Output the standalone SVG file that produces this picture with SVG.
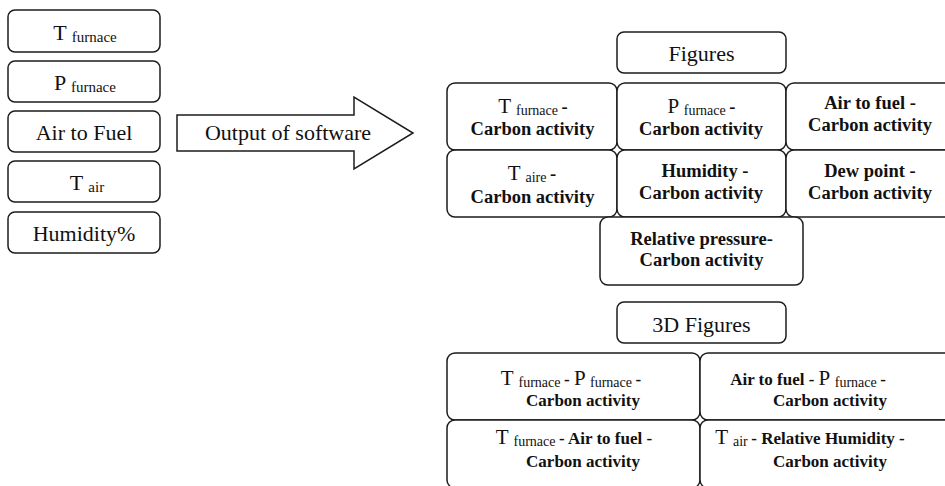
<svg xmlns="http://www.w3.org/2000/svg" width="945" height="486" viewBox="0 0 945 486" font-family="Liberation Serif, serif">
<style>
.box{fill:#fff;stroke:#1c1c1c;stroke-width:1.5}
.t{font-family:'Liberation Serif',serif;fill:#111;text-anchor:middle}
.big{font-size:22px}
.sub{font-size:15px}
.sub2{font-size:14px}
.b1{font-size:18.5px;font-weight:bold}
.b2{font-size:17px;font-weight:bold}
.r1{font-size:21px}
</style>
<rect width="945" height="486" fill="#fff"/>

<g id="in-tfurnace"><rect class="box" x="8" y="10" width="152" height="42" rx="7"/>
<text class="t" x="85" y="40"><tspan class="big">T </tspan><tspan class="sub" dy="2">furnace</tspan></text></g>
<g id="in-pfurnace"><rect class="box" x="8" y="61" width="152" height="41" rx="7"/>
<text class="t" x="85" y="90"><tspan class="big">P </tspan><tspan class="sub" dy="2">furnace</tspan></text></g>
<g id="in-airfuel"><rect class="box" x="8" y="111" width="152" height="41" rx="7"/>
<text class="t big" x="84" y="140">Air to Fuel</text></g>
<g id="in-tair"><rect class="box" x="8" y="161" width="152" height="41" rx="7"/>
<text class="t" x="87" y="190"><tspan class="big">T </tspan><tspan class="sub" dy="2">air</tspan></text></g>
<g id="in-humidity"><rect class="box" x="8" y="212" width="152" height="41" rx="7"/>
<text class="t big" x="84" y="241">Humidity%</text></g>

<g id="connectors">
<polygon class="box" points="177,115 354,115 354,97 413,133 354,169 354,151 177,151"/>
<text class="t big" x="288" y="140">Output of software</text>
</g>

<g id="figures"><rect class="box" x="617" y="32" width="169" height="41" rx="7"/>
<text class="t big" x="701.5" y="61">Figures</text></g>

<g id="fig-tfurnace"><rect class="box" x="447" y="83" width="170" height="67" rx="8"/>
<text class="t" x="533" y="113"><tspan class="r1">T </tspan><tspan class="sub2" dy="2">furnace </tspan><tspan class="b1" dy="-2">-</tspan></text>
<text class="t b1" x="532.5" y="135">Carbon activity</text></g>
<g id="fig-pfurnace"><rect class="box" x="617" y="83" width="169" height="67" rx="8"/>
<text class="t" x="701.5" y="113"><tspan class="r1">P </tspan><tspan class="sub2" dy="2">furnace </tspan><tspan class="b1" dy="-2">-</tspan></text>
<text class="t b1" x="701" y="135">Carbon activity</text></g>
<g id="fig-airfuel"><rect class="box" x="786" y="83" width="175" height="67" rx="8"/>
<text class="t b1" x="870" y="109">Air to fuel -</text>
<text class="t b1" x="870" y="131">Carbon activity</text></g>
<g id="fig-taire"><rect class="box" x="447" y="150" width="170" height="67" rx="8"/>
<text class="t" x="532" y="180"><tspan class="r1">T </tspan><tspan class="sub2" dy="2">aire </tspan><tspan class="b1" dy="-2">-</tspan></text>
<text class="t b1" x="532.5" y="203">Carbon activity</text></g>
<g id="fig-humidity"><rect class="box" x="617" y="150" width="169" height="67" rx="8"/>
<text class="t b1" x="705" y="177">Humidity -</text>
<text class="t b1" x="701" y="199">Carbon activity</text></g>
<g id="fig-dewpoint"><rect class="box" x="786" y="150" width="175" height="67" rx="8"/>
<text class="t b1" x="870" y="177">Dew point -</text>
<text class="t b1" x="870" y="199">Carbon activity</text></g>
<g id="fig-relpressure"><rect class="box" x="600" y="217" width="203" height="68" rx="8"/>
<text class="t b1" x="701.5" y="245">Relative pressure-</text>
<text class="t b1" x="701.5" y="266">Carbon activity</text></g>

<g id="figures3d"><rect class="box" x="617" y="302" width="169" height="41" rx="7"/>
<text class="t big" x="701.5" y="332">3D Figures</text></g>

<g id="f3d-tf-pf"><rect class="box" x="447" y="353" width="253" height="67" rx="8"/>
<text class="t" x="571" y="385"><tspan class="r1">T </tspan><tspan class="sub2" dy="2">furnace </tspan><tspan class="b2" dy="-2">- </tspan><tspan class="r1">P </tspan><tspan class="sub2" dy="2">furnace </tspan><tspan class="b2" dy="-2">-</tspan></text>
<text class="t b2" x="583" y="406">Carbon activity</text></g>
<g id="f3d-af-pf"><rect class="box" x="700" y="353" width="260" height="67" rx="8"/>
<text class="t" x="808" y="385"><tspan class="b2">Air to fuel - </tspan><tspan class="r1">P </tspan><tspan class="sub2" dy="2">furnace </tspan><tspan class="b2" dy="-2">-</tspan></text>
<text class="t b2" x="830" y="406">Carbon activity</text></g>
<g id="f3d-tf-af"><rect class="box" x="447" y="420" width="253" height="68" rx="8"/>
<text class="t" x="574" y="444"><tspan class="r1">T </tspan><tspan class="sub2" dy="2">furnace </tspan><tspan class="b2" dy="-2">- Air to fuel -</tspan></text>
<text class="t b2" x="583" y="467">Carbon activity</text></g>
<g id="f3d-ta-rh"><rect class="box" x="700" y="420" width="260" height="68" rx="8"/>
<text class="t" x="810" y="444"><tspan class="r1">T </tspan><tspan class="sub2" dy="2">air </tspan><tspan class="b2" dy="-2">- Relative Humidity -</tspan></text>
<text class="t b2" x="830" y="467">Carbon activity</text></g>
</svg>
